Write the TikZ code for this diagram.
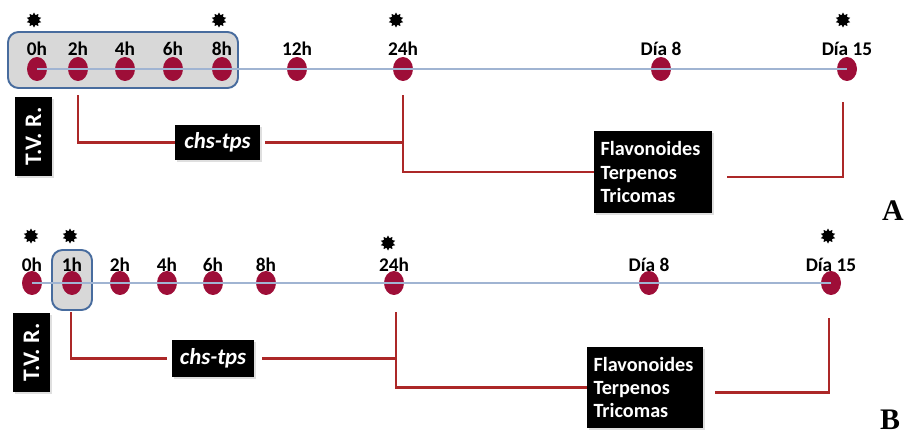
\documentclass[tikz,border=0pt]{standalone}
\usepackage{fontspec}
\setmainfont{Carlito}
\newfontfamily\serifbold{Liberation Serif}
\usetikzlibrary{calc,shapes.geometric,shadows}

\definecolor{dotred}{RGB}{158,14,56}
\definecolor{linkred}{RGB}{172,40,40}
\definecolor{axisblue}{RGB}{160,180,210}
\definecolor{framblue}{RGB}{72,108,158}
\definecolor{boxgray}{RGB}{216,216,216}

\begin{document}
\begin{tikzpicture}[
    x=0.02cm, y=-0.02cm,
    dot/.style={ellipse, fill=dotred, minimum width=0.4cm, minimum height=0.48cm, inner sep=0pt},
    tlabel/.style={font=\bfseries\fontsize{11}{13}\selectfont, inner sep=1pt},
    burst/.style={star, star points=10, star point ratio=1.5, fill=black, minimum size=0.3cm, inner sep=0pt},
    axis/.style={draw=axisblue, line width=0.7pt},
    selbox/.style={draw=framblue, fill=boxgray, line width=1.1pt, rounded corners=6pt},
    blackbox/.style={fill=black, text=white, inner sep=0pt,
        drop shadow={opacity=0.25, shadow xshift=1.2pt, shadow yshift=-1.2pt}},
    link/.style={draw=linkred, line width=1.2pt}
]
\useasboundingbox (0,0) rectangle (907,436);

% Panel A
\draw[selbox] (8,32) rectangle (238,88);
\foreach \n/\x/\t in {0/37/0h, 2/78/2h, 4/125/4h, 6/173/6h, 8/222/8h, 12/297/12h, 24/403/24h, d8/661/Día 8, d15/847/Día 15} {
    \node[dot] (a\n) at (\x,69) {};
    \node[tlabel] (a\n t) at (\x,49) {\t};
}
\draw[axis] (a0.center) -- (ad15.center);

\node[burst] (sa0) at (34,20) {};
\node[burst] (sa8) at (219,20) {};
\node[burst] (sa24) at (396,20) {};
\node[burst] (sad15) at (843,20) {};

\node[blackbox, rotate=90, minimum width=1.58cm, minimum height=0.74cm,
    font=\bfseries\fontsize{13.5}{15}\selectfont] (tvrA) at (33.5,136.5) {T.V. R.};
\node[blackbox, minimum width=1.7cm, minimum height=0.7cm,
    font=\bfseries\itshape\fontsize{13}{15}\selectfont] (chsA) at (217.5,142.5) {chs-tps};
\node[blackbox, minimum width=2.36cm, minimum height=1.64cm, text width=2.1cm, align=left,
    font=\bfseries\fontsize{11.5}{13.3}\selectfont] (flavA) at (653,172) {Flavonoides\\Terpenos\\Tricomas};

\draw[link] ($(a2.south)+(0,14)$) |- (chsA.west);
\draw[link] ($(chsA.east)+(5,0)$) -- (chsA.east -| a24);
\draw[link] ($(a24.south)+(0,14)$) |- (flavA.west);
\draw[link] ($(flavA.east)+(15,5)$) -| ($(ad15.south)+(-4,21)$);

\node[font=\serifbold\bfseries\fontsize{17}{19}\selectfont] (labA) at (893,211) {A};

% Panel B
\draw[selbox] (52,250) rectangle (92,310);
\foreach \n/\x/\t in {0/32/0h, 1/72/1h, 2/120/2h, 4/167/4h, 6/213/6h, 8/266/8h, 24/394/24h, d8/649/Día 8, d15/831/Día 15} {
    \node[dot] (b\n) at (\x,283) {};
    \node[tlabel] (b\n t) at (\x,265) {\t};
}
\draw[axis] (b0.center) -- (bd15.center);

\node[burst] (sb0) at (31,236) {};
\node[burst] (sb1) at (70,236) {};
\node[burst] (sb24) at (388,243) {};
\node[burst] (sbd15) at (828,236) {};

\node[blackbox, rotate=90, minimum width=1.58cm, minimum height=0.74cm,
    font=\bfseries\fontsize{13.5}{15}\selectfont] (tvrB) at (31.5,352.5) {T.V. R.};
\node[blackbox, minimum width=1.64cm, minimum height=0.74cm,
    font=\bfseries\itshape\fontsize{13}{15}\selectfont] (chsB) at (213,358.5) {chs-tps};
\node[blackbox, minimum width=2.32cm, minimum height=1.62cm, text width=2.06cm, align=left,
    font=\bfseries\fontsize{11.5}{13.3}\selectfont] (flavB) at (645,387.5) {Flavonoides\\Terpenos\\Tricomas};

\draw[link] ($(b1.south)+(-1,17)$) |- ($(chsB.west)+(-5,0)$);
\draw[link] ($(chsB.east)+(8,0)$) -- ($(chsB.east -| b24)+(2,0)$);
\draw[link] ($(b24.south)+(2,17)$) |- (flavB.west);
\draw[link] ($(flavB.east)+(12,5)$) -| ($(bd15.south)+(-2,23)$);

\node[font=\serifbold\bfseries\fontsize{17}{19}\selectfont] (labB) at (890,420) {B};
\end{tikzpicture}
\end{document}
